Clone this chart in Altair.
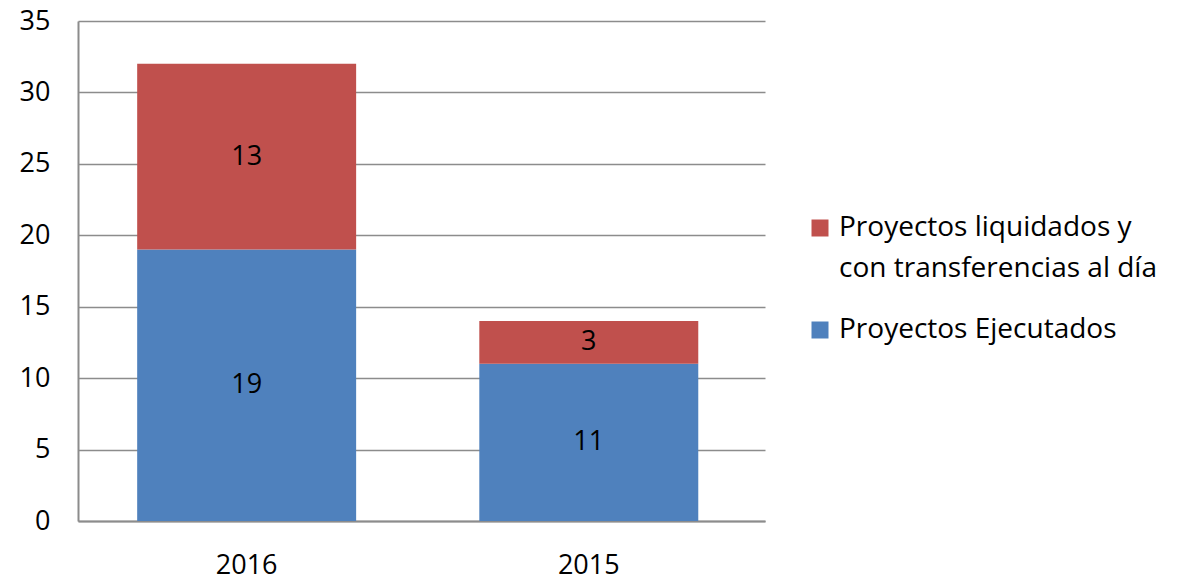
import altair as alt
import pandas as pd

years = ["2016", "2015"]
ejecutados = [19, 11]
liquidados = [13, 3]
series = ["Proyectos liquidados y con transferencias al día", "Proyectos Ejecutados"]
legend_lines = [["Proyectos liquidados y", "con transferencias al día"], ["Proyectos Ejecutados"]]
colors = ["#C0504D", "#4F81BD"]

rows = []
for i, y in enumerate(years):
    rows.append({"year": y, "serie": series[1], "value": ejecutados[i], "ord": 0})
    rows.append({"year": y, "serie": series[0], "value": liquidados[i], "ord": 1})
df = pd.DataFrame(rows)

FONT = "Open Sans"
FS = 27
GRID = "#8c8c8c"

yaxis = alt.Axis(values=[0, 5, 10, 15, 20, 25, 30, 35], labelFontSize=FS,
                 labelPadding=28, ticks=False, grid=True, gridColor=GRID,
                 gridWidth=1.5, domainColor=GRID, domainWidth=2,
                 labelColor="#000000", labelFont=FONT)
yscale = alt.Scale(domain=[0, 35], nice=False)

base = alt.Chart(df).encode(
    x=alt.X("year:N", sort=years, title=None,
            scale=alt.Scale(paddingInner=0.36, paddingOuter=0.184, align=0.47),
            axis=alt.Axis(labelAngle=0, labelFontSize=FS, labelPadding=31, ticks=False,
                          domainColor=GRID, domainWidth=2, labelColor="#000000",
                          labelFont=FONT)),
)

bars = base.mark_bar().encode(
    y=alt.Y("sum(value):Q", stack="zero", title=None, scale=yscale, axis=yaxis),
    color=alt.Color("serie:N", scale=alt.Scale(domain=series, range=colors), legend=None),
    order=alt.Order("ord:Q"),
)

text = base.mark_text(fontSize=FS, font=FONT, color="#000000").encode(
    y=alt.Y("mid:Q", title=None, scale=yscale, axis=yaxis),
    text=alt.Text("value:Q"),
).transform_stack(
    stack="value", groupby=["year"], as_=["v0", "v1"], sort=[alt.SortField("ord")]
).transform_calculate(mid="(datum.v0 + datum.v1) / 2")

# manual legend (plot-area pixel positions)
legend_layers = []
legend_y = [207, 309]
for i, s in enumerate(series):
    ldf = pd.DataFrame({"serie": [s], "lines": [legend_lines[i]]})
    sq = alt.Chart(ldf).mark_square(size=289, color=colors[i], opacity=1).encode(
        x=alt.value(742), y=alt.value(legend_y[i]))
    tx = alt.Chart(ldf).mark_text(fontSize=28, font=FONT, color="#000000", align="left",
                                  baseline="middle", lineHeight=41).encode(
        x=alt.value(761), y=alt.value(legend_y[i]),
        text=alt.Text("lines"))
    legend_layers += [sq, tx]

chart = alt.layer(bars, text, *legend_layers).properties(
    width=687, height=500,
    autosize=alt.AutoSizeParams(type="none"),
    padding={"left": 70, "top": 13, "right": 400, "bottom": 55},
    background="#ffffff",
).configure_view(strokeWidth=0)

chart.save("out.html", embed_options={"renderer": "svg", "actions": False})
